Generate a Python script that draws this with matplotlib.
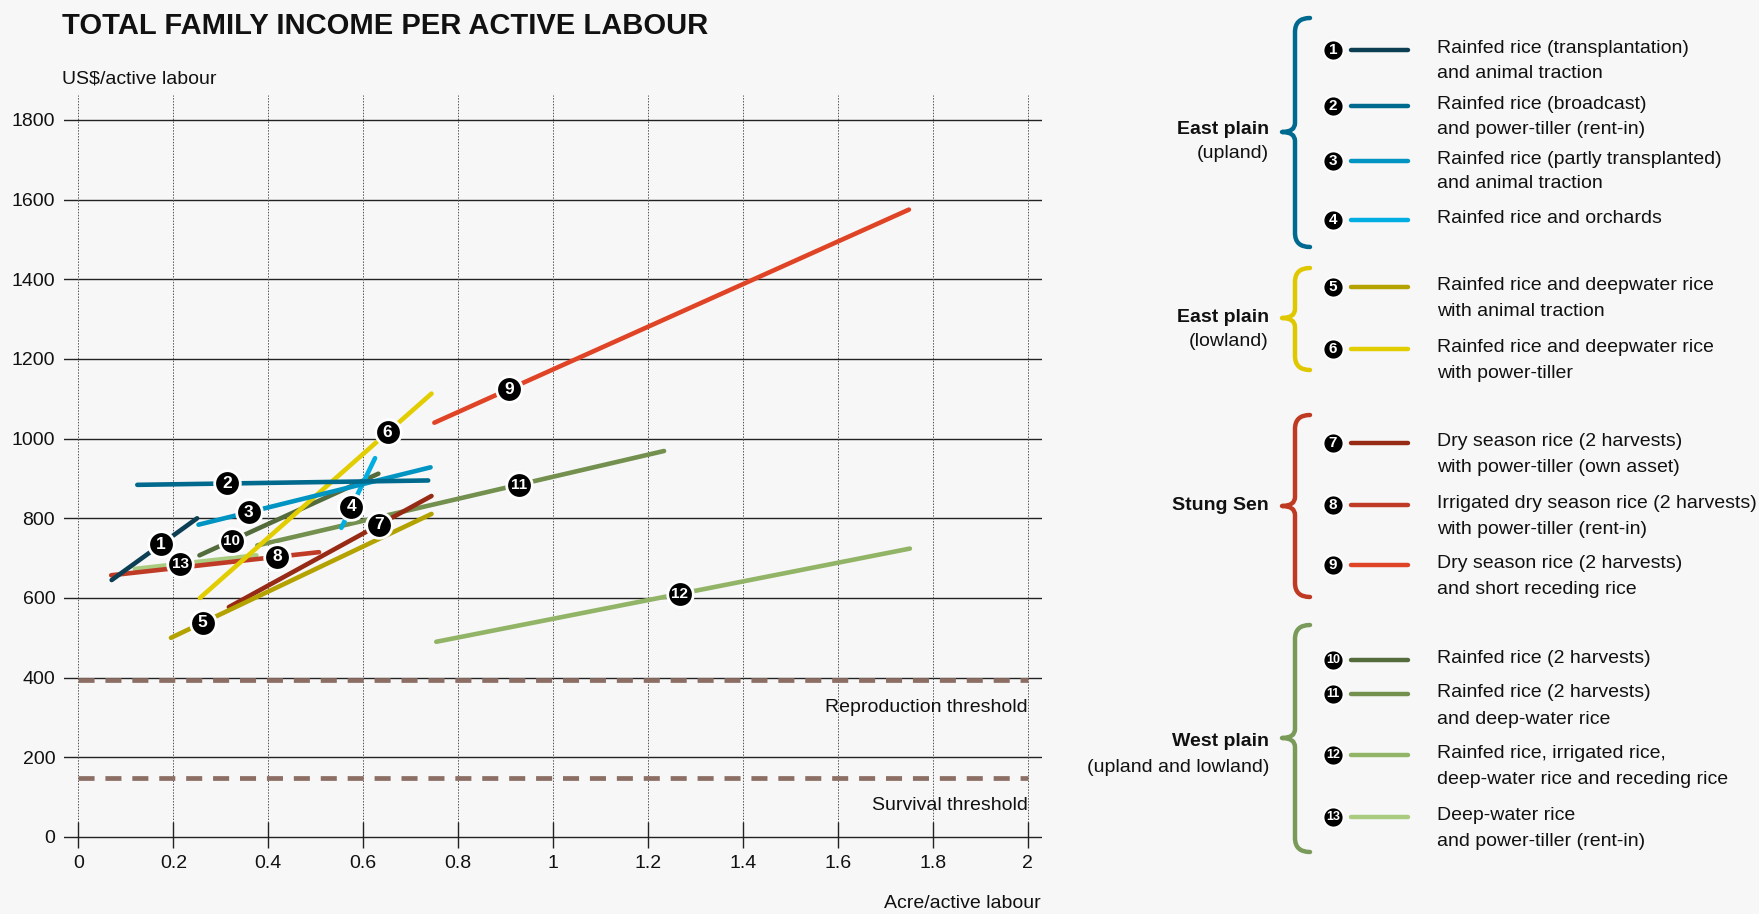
import matplotlib
matplotlib.use('Agg')
import matplotlib.pyplot as plt
from matplotlib.path import Path
from matplotlib.patches import PathPatch
import numpy as np

FONT = ['Liberation Sans Narrow', 'Liberation Sans', 'DejaVu Sans']
plt.rcParams['font.family'] = FONT

# ---------------- data ----------------
series_ids = [1, 2, 3, 4, 5, 6, 7, 8, 9, 10, 11, 12, 13]
x_start = [0.07, 0.124, 0.253, 0.554, 0.195, 0.256, 0.317, 0.069, 0.75, 0.255, 0.377, 0.754, 0.119]
x_end   = [0.25, 0.737, 0.742, 0.625, 0.744, 0.744, 0.744, 0.507, 1.75, 0.632, 1.234, 1.752, 0.375]
y_start = [645, 884, 784, 776, 500, 600, 577, 657, 1040, 707, 732, 490, 673]
y_end   = [800, 895, 928, 951, 811, 1113, 856, 715, 1575, 912, 969, 724, 707]

legend_texts = [
    "Rainfed rice (transplantation)\nand animal traction",
    "Rainfed rice (broadcast)\nand power-tiller (rent-in)",
    "Rainfed rice (partly transplanted)\nand animal traction",
    "Rainfed rice and orchards",
    "Rainfed rice and deepwater rice\nwith animal traction",
    "Rainfed rice and deepwater rice\nwith power-tiller",
    "Dry season rice (2 harvests)\nwith power-tiller (own asset)",
    "Irrigated dry season rice (2 harvests)\nwith power-tiller (rent-in)",
    "Dry season rice (2 harvests)\nand short receding rice",
    "Rainfed rice (2 harvests)",
    "Rainfed rice (2 harvests)\nand deep-water rice",
    "Rainfed rice, irrigated rice,\ndeep-water rice and receding rice",
    "Deep-water rice\nand power-tiller (rent-in)",
]
group_names = ["East plain", "East plain", "Stung Sen", "West plain"]
group_subs = ["(upland)", "(lowland)", "", "(upland and lowland)"]
group_members = [[1, 2, 3, 4], [5, 6], [7, 8, 9], [10, 11, 12, 13]]

thresholds = [394, 148]
threshold_names = ["Reproduction threshold", "Survival threshold"]

x_ticks = [0, 0.2, 0.4, 0.6, 0.8, 1, 1.2, 1.4, 1.6, 1.8, 2]
x_ticklabels = ["0", "0.2", "0.4", "0.6", "0.8", "1", "1.2", "1.4", "1.6", "1.8", "2"]
y_ticks = [0, 200, 400, 600, 800, 1000, 1200, 1400, 1600, 1800]
y_ticklabels = ["0", "200", "400", "600", "800", "1000", "1200", "1400", "1600", "1800"]

# ---------------- styles / layout ----------------
colors = ['#0d3f54', '#006a8e', '#0094c3', '#00aee2', '#b3a200', '#e2cd00',
          '#962a14', '#c03b25', '#e04426', '#546b3c', '#73904f', '#92b466', '#a9cc80']
group_colors = ['#00698f', '#e0c800', '#bf3a22', '#7a9a5a']
label_t = [0.58, 0.31, 0.217, 0.3, 0.122, 0.81, 0.742, 0.797, 0.158, 0.18, 0.644, 0.514, 0.375]
BG = '#f7f7f7'
GRID = '#222222'
THR = '#8c6e64'

W, H = 1759, 914
fig = plt.figure(figsize=(W / 100, H / 100), dpi=100, facecolor=BG)

# main axes: x=-0.03 at 64.2 px, x=2.03 at 1041.8 px; y=-30 at 848.9 px, y=1865 at 94.1 px
ax = fig.add_axes([64.2 / W, 1 - 848.9 / H, (1041.8 - 64.2) / W, (848.9 - 94.1) / H])
ax.set_xlim(-0.03, 2.03)
ax.set_ylim(-30, 1865)
ax.set_facecolor(BG)
for s in ax.spines.values():
    s.set_visible(False)

for y in y_ticks:
    ax.axhline(y, color=GRID, lw=1.0, zorder=1)
for x in x_ticks:
    ax.vlines(x, 0, 1862, colors='#555555', lw=0.7, linestyles=(0, (1.5, 1.5)), zorder=1)
    ax.vlines(x, -27, 37, colors=GRID, lw=1.0, zorder=1)

ax.set_xticks(x_ticks)
ax.set_xticklabels(x_ticklabels)
ax.set_yticks(y_ticks)
ax.set_yticklabels(y_ticklabels)
ax.tick_params(axis='x', length=0, pad=4.5, labelsize=14, colors='#111111')
ax.tick_params(axis='y', length=0, pad=6.5, labelsize=14, colors='#111111')

for yv, name in zip(thresholds, threshold_names):
    ax.plot([0, 2], [yv, yv], color=THR, lw=3.4, dashes=(3.4, 2.3), solid_capstyle='butt',
            dash_capstyle='butt', zorder=2)
    ax.text(2, yv - 70, name, ha='right', va='center', fontsize=14, color='#111111', zorder=3)

order = [12, 11, 10, 9, 8, 7, 6, 5, 4, 3, 2, 1, 0]
for i in order:
    ax.plot([x_start[i], x_end[i]], [y_start[i], y_end[i]], color=colors[i], lw=3.3,
            solid_capstyle='round', zorder=3)

for i, sid in enumerate(series_ids):
    t = label_t[i]
    lx = x_start[i] + t * (x_end[i] - x_start[i])
    ly = y_start[i] + t * (y_end[i] - y_start[i])
    ax.scatter([lx], [ly], s=340, c='black', edgecolors='white', linewidths=2.0, zorder=5)
    ax.text(lx, ly, str(sid), color='white', fontsize=12.5 if sid < 10 else 11,
            fontweight='bold', ha='center', va='center', zorder=6)

# overlay axes in pixel coordinates for legend & titles
ov = fig.add_axes([0, 0, 1, 1])
ov.set_xlim(0, W)
ov.set_ylim(H, 0)
ov.axis('off')
ov.patch.set_alpha(0)

ov.text(62, 26, "TOTAL FAMILY INCOME PER ACTIVE LABOUR", fontsize=21, fontweight='bold',
        ha='left', va='center', color='#111111')
ov.text(62, 79, "US$/active labour", fontsize=14, ha='left', va='center', color='#111111')
ov.text(1041, 904, "Acre/active labour", fontsize=14, ha='right', va='center', color='#111111')

# legend rows (pixel y of circle center)
row_y = [50, 106, 161, 220, 287, 349, 443, 505, 565, 660, 694, 755, 817]
line_gap = [24.5, 24.5, 24.5, 24.5, 26.5, 26.5, 26.5, 26.5, 26.5, 26.5, 26.5, 26.5, 26.5]
circle_x, line_x0, line_x1, text_x = 1333, 1351, 1408, 1437
for i, sid in enumerate(series_ids):
    yy = row_y[i]
    ov.scatter([circle_x], [yy], s=210, c='black', edgecolors='white', linewidths=1.4, zorder=5)
    ov.text(circle_x, yy, str(sid), color='white', fontsize=11 if sid < 10 else 9,
            fontweight='bold', ha='center', va='center', zorder=6)
    ov.plot([line_x0, line_x1], [yy, yy], color=colors[i], lw=3.2, solid_capstyle='round')
    for k, ln in enumerate(legend_texts[i].split('\n')):
        ov.text(text_x, yy - 1.5 + k * line_gap[i], ln, fontsize=14, ha='left', va='center',
                color='#111111')

# braces
brace_top = [18, 268, 415, 625]
brace_bot = [247, 370, 597, 852]
brace_tip = [132, 318, 506, 738]
label_y = [129, 317, 505, 742]
x_end_b, x_sp, x_tip = 1310, 1295, 1282


def brace(top, bot, tip, color):
    r = 14
    r2 = 9
    verts = [(x_end_b, top), (x_sp, top), (x_sp, top + r),
             (x_sp, tip - r2), (x_sp, tip), (x_tip, tip),
             (x_sp, tip), (x_sp, tip + r2),
             (x_sp, bot - r), (x_sp, bot), (x_end_b, bot)]
    codes = [Path.MOVETO, Path.CURVE3, Path.CURVE3,
             Path.LINETO, Path.CURVE3, Path.CURVE3,
             Path.CURVE3, Path.CURVE3,
             Path.LINETO, Path.CURVE3, Path.CURVE3]
    p = PathPatch(Path(verts, codes), fill=False, edgecolor=color, lw=3.2,
                  capstyle='round', joinstyle='round')
    ov.add_patch(p)


for g in range(4):
    brace(brace_top[g], brace_bot[g], brace_tip[g], group_colors[g])
    ov.text(1269, label_y[g], group_names[g], fontsize=14, fontweight='bold', ha='right',
            va='center', color='#111111')
    if group_subs[g]:
        ov.text(1269, label_y[g] + 25, group_subs[g], fontsize=14, ha='right', va='center',
                color='#111111')

fig.savefig('out.png', dpi=100, facecolor=BG)
